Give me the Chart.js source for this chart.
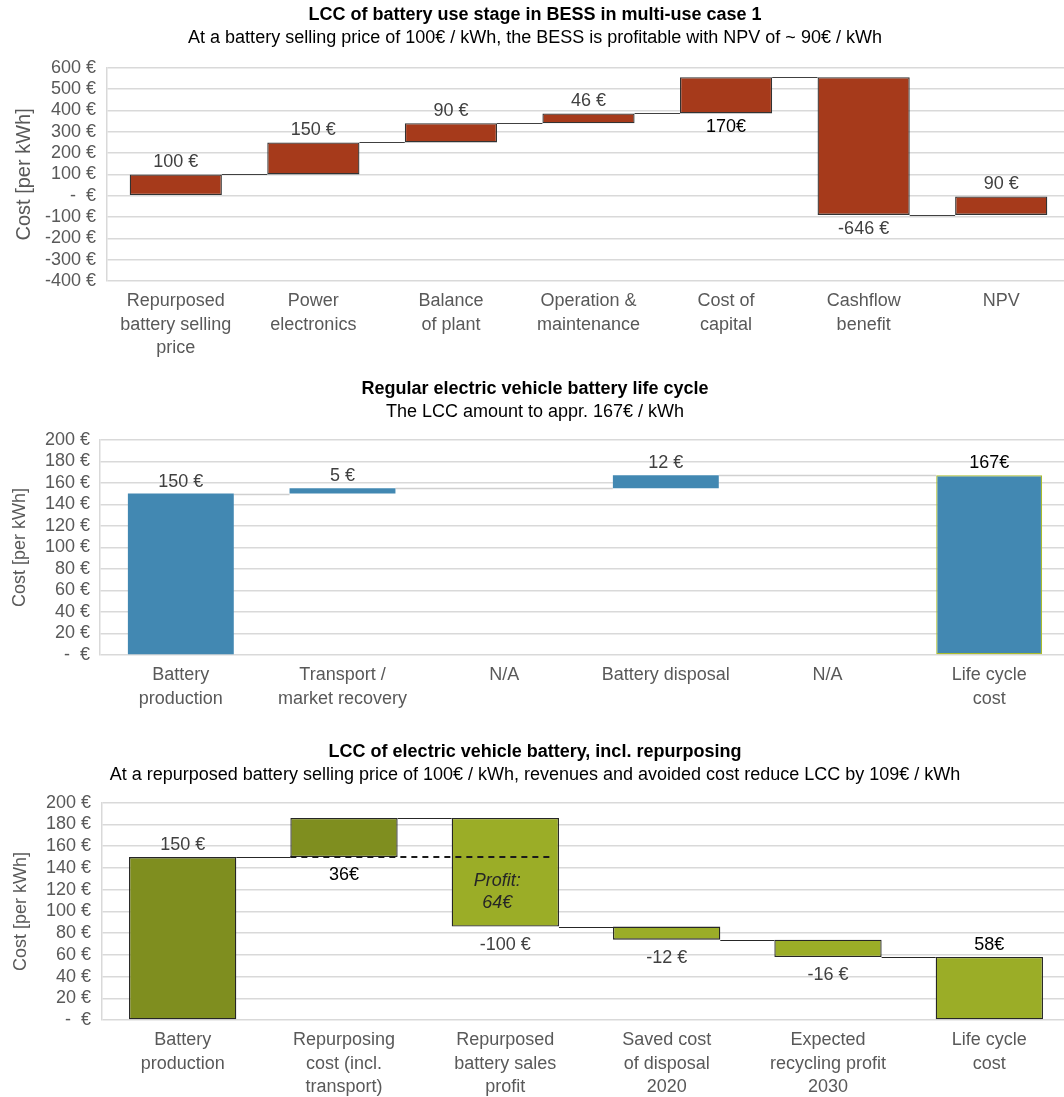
<!DOCTYPE html>
<html>
<head>
<meta charset="utf-8">
<script src="https://cdn.jsdelivr.net/npm/chart.js@4.4.0/dist/chart.umd.min.js"></script>
<style>
  html, body { margin: 0; padding: 0; background: #fff; overflow: hidden; }
  .box { position: absolute; left: 0; }
</style>
</head>
<body>
<div class="box" style="top:0"><canvas id="bess" width="1070" height="374"></canvas></div>
<div class="box" style="top:374px"><canvas id="regular" width="1070" height="363"></canvas></div>
<div class="box" style="top:737px"><canvas id="repurp" width="1070" height="360"></canvas></div>
<script>
const FONT = '"Liberation Sans", Arial, Helvetica, sans-serif';

// --- chart 1: BESS use stage ---
const bessCategories = [['Repurposed', 'battery selling', 'price'], ['Power', 'electronics'], ['Balance', 'of plant'],
  ['Operation &', 'maintenance'], ['Cost of', 'capital'], ['Cashflow', 'benefit'], ['NPV']];
const bessLow = [0, 100, 250, 340, 386, -90, -90];
const bessHigh = [100, 250, 340, 386, 556, 556, 0];
const bessLabels = ['100 €', '150 €', '90 €', '46 €', '170€', '-646 €', '90 €'];
const bessTicks = [600, 500, 400, 300, 200, 100, 0, -100, -200, -300, -400];

// --- chart 2: regular EV battery ---
const regularCategories = [['Battery', 'production'], ['Transport /', 'market recovery'], 'N/A', 'Battery disposal', 'N/A', ['Life cycle', 'cost']];
const regularLow = [0, 150, null, 155, null, 0];
const regularHigh = [150, 155, null, 167, null, 167];
const regularLabels = ['150 €', '5 €', '', '12 €', '', '167€'];
const regularTicks = [200, 180, 160, 140, 120, 100, 80, 60, 40, 20, 0];

// --- chart 3: EV battery incl. repurposing ---
const repurpCategories = [['Battery', 'production'], ['Repurposing', 'cost (incl.', 'transport)'], ['Repurposed', 'battery sales', 'profit'],
  ['Saved cost', 'of disposal', '2020'], ['Expected', 'recycling profit', '2030'], ['Life cycle', 'cost']];
const repurpLow = [0, 150, 86, 74, 58, 0];
const repurpHigh = [150, 186, 186, 86, 74, 58];
const repurpLabels = ['150 €', '36€', '-100 €', '-12 €', '-16 €', '58€'];
const repurpProfit = ['Profit:', '64€'];
const repurpTicks = [200, 180, 160, 140, 120, 100, 80, 60, 40, 20, 0];

function euro(v) {
  return v === 0 ? '-  €' : v + ' €';
}

function ranges(low, high) {
  return low.map((l, i) => (l === null ? null : [l, high[i]]));
}

// connectors, value labels and extras for a waterfall
function waterfall(cfg) {
  return {
    id: 'waterfall',
    beforeDatasetsDraw(chart) {
      const ctx = chart.ctx;
      const y = chart.scales.y;
      const bars = chart.getDatasetMeta(0).data;
      let prev = -1;
      ctx.save();
      ctx.strokeStyle = cfg.lineColor;
      ctx.lineWidth = cfg.lineWidth;
      for (let i = 0; i < cfg.low.length; i++) {
        if (cfg.low[i] === null) continue;
        if (prev >= 0) {
          const a = [cfg.high[prev], cfg.low[prev]];
          const b = [cfg.low[i], cfg.high[i]];
          const level = b.includes(a[0]) ? a[0] : a[1];
          const p = bars[prev].getProps(['x', 'width'], true);
          const q = bars[i].getProps(['x', 'width'], true);
          const py = Math.round(y.getPixelForValue(level)) + 0.5;
          ctx.beginPath();
          ctx.moveTo(p.x + p.width / 2, py);
          ctx.lineTo(q.x - q.width / 2, py);
          ctx.stroke();
        }
        prev = i;
      }
      ctx.restore();
    },
    afterDatasetsDraw(chart) {
      const ctx = chart.ctx;
      const y = chart.scales.y;
      const bars = chart.getDatasetMeta(0).data;
      ctx.save();
      ctx.textAlign = 'center';
      ctx.textBaseline = 'middle';
      cfg.labels.forEach((txt, i) => {
        if (!txt) return;
        const b = bars[i].getProps(['x', 'y', 'base'], true);
        const top = Math.min(b.y, b.base);
        const bottom = Math.max(b.y, b.base);
        ctx.font = '18px ' + FONT;
        ctx.fillStyle = cfg.labelColor[i];
        const ty = cfg.side[i] === 'top' ? top - cfg.topGap : bottom + cfg.bottomGap;
        ctx.fillText(txt, b.x, ty);
      });
      if (cfg.extra) cfg.extra(chart, ctx, y, bars);
      ctx.restore();
    }
  };
}

function makeChart(id, o) {
  return new Chart(document.getElementById(id), {
    type: 'bar',
    data: {
      labels: o.categories,
      datasets: [{
        data: ranges(o.low, o.high),
        backgroundColor: o.colors,
        borderColor: o.borderColors,
        borderWidth: o.borderWidths,
        borderSkipped: false,
        barPercentage: o.barPct,
        categoryPercentage: 1
      }]
    },
    options: {
      responsive: false,
      animation: false,
      layout: { padding: 0 },
      plugins: {
        legend: { display: false },
        tooltip: { enabled: false },
        title: {
          display: true, text: o.title, color: '#000',
          font: { family: FONT, size: 18, weight: 'bold' },
          padding: { top: 4, bottom: 0 }
        },
        subtitle: {
          display: true, text: o.subtitle, color: '#000',
          font: { family: FONT, size: 18 },
          padding: { top: 1.6, bottom: o.subGap }
        }
      },
      scales: {
        x: {
          afterFit: s => { s.height = o.xHeight; },
          grid: { display: false, drawTicks: false },
          border: { display: false },
          ticks: {
            color: '#595959', padding: 9, maxRotation: 0, autoSkip: false,
            font: { family: FONT, size: 18, lineHeight: 1.28 }
          }
        },
        y: {
          min: o.ticks[o.ticks.length - 1],
          max: o.ticks[0],
          afterBuildTicks: s => { s.ticks = o.ticks.map(v => ({ value: v })); },
          afterFit: s => { s.width = o.left; },
          grid: { color: '#d9d9d9', lineWidth: 1.5, drawTicks: false },
          border: { display: true, color: '#d9d9d9', width: 1.5 },
          ticks: {
            callback: v => euro(v), color: '#595959', padding: o.tickPad, autoSkip: false,
            font: { family: FONT, size: 18 }
          },
          title: {
            display: true, text: 'Cost [per kWh]', color: '#595959',
            font: { family: FONT, size: o.yTitleSize },
            padding: { top: o.yTitlePad, bottom: 0 }
          }
        }
      }
    },
    plugins: [waterfall(o.wf)]
  });
}

const GRAY = '#404040';

makeChart('bess', {
  title: 'LCC of battery use stage in BESS in multi-use case 1',
  subtitle: 'At a battery selling price of 100€ / kWh, the BESS is profitable with NPV of ~ 90€ / kWh',
  categories: bessCategories, low: bessLow, high: bessHigh, ticks: bessTicks,
  colors: '#A63A1B', borderColors: '#333333', borderWidths: 1.3, barPct: 0.67,
  left: 107, tickPad: 11, yTitleSize: 20, yTitlePad: 12, xHeight: 93, subGap: 19,
  wf: {
    low: bessLow, high: bessHigh, labels: bessLabels,
    side: ['top', 'top', 'top', 'top', 'bottom', 'bottom', 'top'],
    labelColor: [GRAY, GRAY, GRAY, GRAY, '#000', GRAY, GRAY],
    lineColor: '#404040', lineWidth: 1, topGap: 12, bottomGap: 14
  }
});

makeChart('regular', {
  title: 'Regular electric vehicle battery life cycle',
  subtitle: 'The LCC amount to appr. 167€ / kWh',
  categories: regularCategories, low: regularLow, high: regularHigh, ticks: regularTicks,
  colors: '#4288B2', borderColors: ['#4288B2', '#4288B2', '#4288B2', '#4288B2', '#4288B2', '#A9BC2C'],
  borderWidths: [0, 0, 0, 0, 0, 1.2], barPct: 0.655,
  left: 100, tickPad: 10, yTitleSize: 18, yTitlePad: 9, xHeight: 82, subGap: 17,
  wf: {
    low: regularLow, high: regularHigh, labels: regularLabels,
    side: ['top', 'top', 'top', 'top', 'top', 'top'],
    labelColor: [GRAY, GRAY, GRAY, GRAY, GRAY, '#000'],
    lineColor: '#d0d0d0', lineWidth: 1.5, topGap: 12, bottomGap: 14
  }
});

makeChart('repurp', {
  title: 'LCC of electric vehicle battery, incl. repurposing',
  subtitle: 'At a repurposed battery selling price of 100€ / kWh, revenues and avoided cost reduce LCC by 109€ / kWh',
  categories: repurpCategories, low: repurpLow, high: repurpHigh, ticks: repurpTicks,
  colors: ['#7F8E1F', '#7F8E1F', '#9BAD27', '#9BAD27', '#9BAD27', '#9BAD27'],
  borderColors: '#262626', borderWidths: 1.3, barPct: 0.665,
  left: 102, tickPad: 11, yTitleSize: 18, yTitlePad: 10, xHeight: 77, subGap: 17,
  wf: {
    low: repurpLow, high: repurpHigh, labels: repurpLabels,
    side: ['top', 'bottom', 'bottom', 'bottom', 'bottom', 'top'],
    labelColor: [GRAY, '#000', GRAY, GRAY, GRAY, '#000'],
    lineColor: '#262626', lineWidth: 1, topGap: 12, bottomGap: 18,
    extra(chart, ctx, y, bars) {
      // dashed reference at the battery production level
      const level = repurpHigh[0];
      const py = y.getPixelForValue(level);
      const b2 = bars[1].getProps(['x', 'width'], true);
      const b3 = bars[2].getProps(['x', 'width', 'base'], true);
      ctx.strokeStyle = '#1a1a1a';
      ctx.lineWidth = 2;
      ctx.setLineDash([6, 5]);
      ctx.beginPath();
      ctx.moveTo(b2.x - b2.width / 2, py);
      ctx.lineTo(b3.x + b3.width / 2 - 6, py);
      ctx.stroke();
      ctx.setLineDash([]);
      // profit text inside the sales bar
      const mid = (py + y.getPixelForValue(repurpLow[2])) / 2;
      ctx.font = 'italic 18px ' + FONT;
      ctx.fillStyle = '#262626';
      ctx.fillText(repurpProfit[0], b3.x - 8, mid - 11);
      ctx.fillText(repurpProfit[1], b3.x - 8, mid + 11);
    }
  }
});
</script>
</body>
</html>
